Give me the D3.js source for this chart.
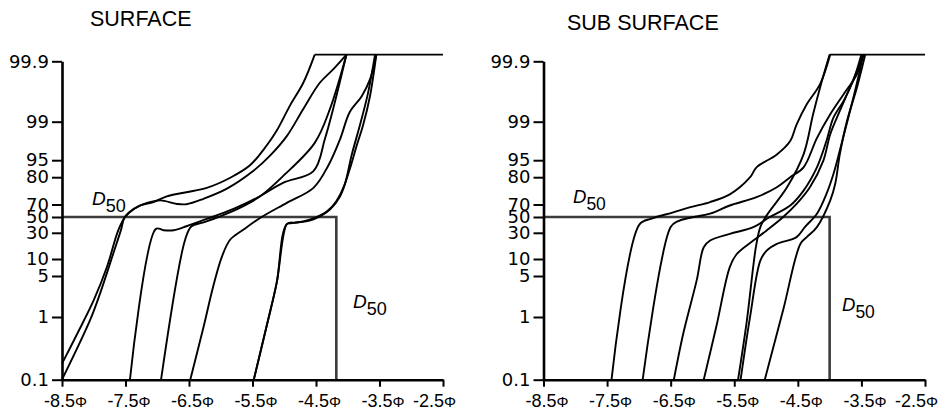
<!DOCTYPE html>
<html>
<head>
<meta charset="utf-8">
<script src="https://cdn.jsdelivr.net/npm/d3@7/dist/d3.min.js"></script>
<style>
  body { margin: 0; background: #fff; }
  svg text { font-family: "Liberation Sans", Arial, sans-serif; fill: #000; }
</style>
</head>
<body>
<script>
// tick values of the two axes (phi units / cumulative percent)
var xTicks = [-8.5, -7.5, -6.5, -5.5, -4.5, -3.5, -2.5];
var yTicks = [0.1, 1, 5, 10, 30, 50, 70, 80, 95, 99, 99.9];
var titles = ["SURFACE", "SUB SURFACE"];

// D50: [phi, percent]
var d50Surface = [-4.18, 50];
var d50Sub = [-4.0, 50];

// surface curves: [phi, percent]
var s1 = [[-8.5,0.1],[-8.06,0.95],[-7.9,3.3],[-7.69,14.6],[-7.57,34],[-7.52,48.8],[-7.45,56.5],[-7.27,68.4],[-7.06,70.9],[-6.85,73],[-6.54,74.5],[-6.22,76.1],[-5.85,79.8],[-5.54,90.5],[-5.28,96.5],[-5.12,98.06],[-4.91,99.24],[-4.7,99.58],[-4.52,100]];
var s2 = [[-8.5,0.33],[-8.26,0.76],[-8.0,2.64],[-7.79,7.8],[-7.61,34],[-7.5,51],[-7.37,63],[-7.16,70.6],[-6.95,71.5],[-6.69,70.2],[-6.54,70.1],[-6.27,72.1],[-5.91,75.7],[-5.49,85.4],[-5.22,95.5],[-4.96,97.5],[-4.7,99.19],[-4.44,99.58],[-4.23,99.78],[-4.02,100]];
var s3 = [[-7.43,0.1],[-7.02,35],[-6.9,33.3],[-6.74,33.3],[-6.54,38.3],[-6.22,47.5],[-5.8,63],[-5.43,72.4],[-5.02,77.9],[-4.54,85.4],[-4.36,97.2],[-4.23,99.19],[-4.02,100]];
var s4 = [[-6.94,0.1],[-6.56,24.9],[-6.46,38.3],[-6.27,43.3],[-6.01,51.1],[-5.7,64.6],[-5.38,73],[-5.02,80.9],[-4.52,96.8],[-4.28,99.19],[-4.02,100]];
var s5 = [[-6.48,0.1],[-6.27,0.86],[-6.12,3.95],[-5.98,12],[-5.85,24.9],[-5.64,34.2],[-5.38,48.8],[-4.96,70.6],[-4.54,76.1],[-4.31,89.9],[-4.12,97.2],[-3.97,99.14],[-3.78,99.38],[-3.65,99.63],[-3.55,100]];
var s6 = [[-5.48,0.1],[-5.28,0.86],[-5.12,4.3],[-4.96,41],[-4.81,43],[-4.6,45.5],[-4.44,51.1],[-4.28,61.9],[-4.12,73],[-3.97,86.9],[-3.86,96.5],[-3.76,98.6],[-3.65,99.38],[-3.55,100]];
var s7 = [[-5.48,0.1],[-5.28,0.86],[-5.12,4.3],[-4.96,41],[-4.9,42],[-4.7,44.5],[-4.52,48.8],[-4.33,58.6],[-4.18,71.2],[-4.05,77.3],[-3.94,95.5],[-3.81,98.6],[-3.68,99.43],[-3.57,100]];

// sub surface curves: [phi, percent]
var b1 = [[-7.43,0.1],[-6.99,40.6],[-6.8,47.9],[-6.46,57.4],[-6.19,65.8],[-5.88,70.9],[-5.57,73.7],[-5.25,80],[-5.15,88.7],[-4.83,95.6],[-4.62,97],[-4.52,98.7],[-4.36,99.26],[-4.15,99.56],[-3.99,100]];
var b2 = [[-6.94,0.1],[-6.5,37.2],[-6.38,44.9],[-6.19,49.1],[-5.88,55.3],[-5.57,68.4],[-5.15,72.7],[-4.83,76.3],[-4.62,80],[-4.41,88.7],[-4.2,97.3],[-3.99,99.11],[-3.78,99.41],[-3.57,99.71],[-3.48,100]];
var b3 = [[-6.45,0.1],[-6.3,0.77],[-6.09,4.6],[-5.98,19],[-5.88,24.1],[-5.57,29.2],[-5.2,37.2],[-4.94,50],[-4.62,68.4],[-4.41,75.1],[-4.2,88.7],[-4.05,97],[-3.94,99.06],[-3.78,99.31],[-3.63,99.61],[-3.5,100]];
var b4 = [[-5.98,0.1],[-5.78,0.87],[-5.57,7.6],[-5.46,13.8],[-5.2,24.1],[-4.99,33],[-4.73,50],[-4.52,70.2],[-4.31,76.3],[-4.1,94.4],[-3.99,97.7],[-3.84,99.16],[-3.68,99.51],[-3.46,100]];
var b5 = [[-5.44,0.1],[-5.3,0.96],[-5.16,19],[-5.09,37.2],[-4.99,52.6],[-4.67,76.3],[-4.41,95.6],[-4.26,99.11],[-4.15,99.51],[-4.0,100]];
var b6 = [[-5.4,0.1],[-5.25,1.06],[-5.09,9.5],[-4.99,16.4],[-4.83,21.5],[-4.52,26.7],[-4.39,37.2],[-4.2,55.3],[-4.05,73.9],[-3.94,82.9],[-3.84,96],[-3.73,98.8],[-3.6,99.46],[-3.47,100]];
var b7 = [[-5.02,0.1],[-4.73,1.7],[-4.46,21.5],[-4.36,26.7],[-4.2,37.2],[-3.99,71.5],[-3.91,77.8],[-3.84,95.6],[-3.73,99],[-3.57,99.51],[-3.44,100]];

var surfaceCurves = [s1, s2, s3, s4, s5, s6, s7];
var subCurves = [b1, b2, b3, b4, b5, b6, b7];

// layout
var W = 938, H = 414;
// pixel position of each y tick (the paper's probability grid is hand drawn)
var yPx = [379.7, 317, 276, 259, 232.8, 217, 204.5, 177.2, 160.2, 121.7, 61.3];

var svg = d3.select("body").append("svg")
    .attr("width", W)
    .attr("height", H);

var y = d3.scaleLinear().domain(yTicks).range(yPx);

function drawPanel(p) {
    var x = d3.scaleLinear().domain([xTicks[0], xTicks[xTicks.length - 1]]).range(p.xRange);
    var g = svg.append("g");

    var line = d3.line()
        .x(function(d) { return x(d[0]); })
        .y(function(d) { return y(d[1]); })
        .curve(d3.curveCatmullRom.alpha(0.5));
    var straight = d3.line()
        .x(function(d) { return x(d[0]); })
        .y(function(d) { return y(d[1]); });

    // D50 guide lines
    g.append("path")
        .attr("d", straight([[xTicks[0], p.d50[1]], p.d50, [p.d50[0], yTicks[0]]]))
        .attr("fill", "none")
        .attr("stroke", "#3c3c3c")
        .attr("stroke-width", 2.6);

    // distribution curves
    g.selectAll("path.curve")
        .data(p.curves)
        .enter()
        .append("path")
        .attr("class", "curve")
        .attr("d", line)
        .attr("fill", "none")
        .attr("stroke", "#000")
        .attr("stroke-width", 1.9)
        .attr("stroke-linejoin", "round");

    // all curves end at 100%, joined by one line to the right edge
    var firstTop = d3.min(p.curves, function(c) { return c[c.length - 1][0]; });
    g.append("path")
        .attr("d", straight([[firstTop, 100], [xTicks[xTicks.length - 1], 100]]))
        .attr("stroke", "#000")
        .attr("stroke-width", 1.9);

    // axes
    var yAxis = g.append("g")
        .attr("transform", "translate(" + p.xRange[0] + ",0)")
        .call(d3.axisLeft(y).tickValues(yTicks).tickSize(10).tickPadding(3)
            .tickSizeOuter(0).tickFormat(function(d) { return d; }));
    yAxis.selectAll("text")
        .style("font-family", "'DejaVu Sans', sans-serif")
        .style("font-size", "18px");

    var xAxis = g.append("g")
        .attr("transform", "translate(0," + y(yTicks[0]) + ")")
        .call(d3.axisBottom(x).tickValues(xTicks).tickSize(7).tickPadding(8)
            .tickSizeOuter(0).tickFormat(function(d) { return d.toFixed(1); }));
    // the last label sits a little left of its tick, as in the original
    xAxis.selectAll(".tick text")
        .style("font-size", "18px")
        .attr("dx", function(d, i) { return i === xTicks.length - 1 ? -9 : 3; })
        .append("tspan")
        .style("font-size", "15px")
        .text("Φ");

    g.selectAll(".domain").attr("stroke", "#000").attr("stroke-width", 2.6);
    g.selectAll(".tick line").attr("stroke", "#000").attr("stroke-width", 2);
    g.selectAll(".tick text").attr("fill", "#000");

    // title
    g.append("text")
        .attr("x", p.titlePos[0])
        .attr("y", p.titlePos[1])
        .style("font-size", "21.5px")
        .text(p.title);

    // D50 labels
    p.labels.forEach(function(l) {
        var t = g.append("text")
            .attr("x", l[0])
            .attr("y", l[1])
            .style("font-size", p.labelSize + "px");
        t.append("tspan").attr("font-style", "italic").text("D");
        t.append("tspan").attr("dy", 7).style("font-size", (p.labelSize - 1) + "px").text("50");
    });
}

drawPanel({
    xRange: [62, 443],
    curves: surfaceCurves,
    d50: d50Surface,
    title: titles[0],
    titlePos: [90, 26],
    labels: [[92, 205], [353, 308]],
    labelSize: 19
});

drawPanel({
    xRange: [543.5, 925],
    curves: subCurves,
    d50: d50Sub,
    title: titles[1],
    titlePos: [567, 30],
    labels: [[573, 203], [842, 311]],
    labelSize: 18.5
});
</script>
</body>
</html>
